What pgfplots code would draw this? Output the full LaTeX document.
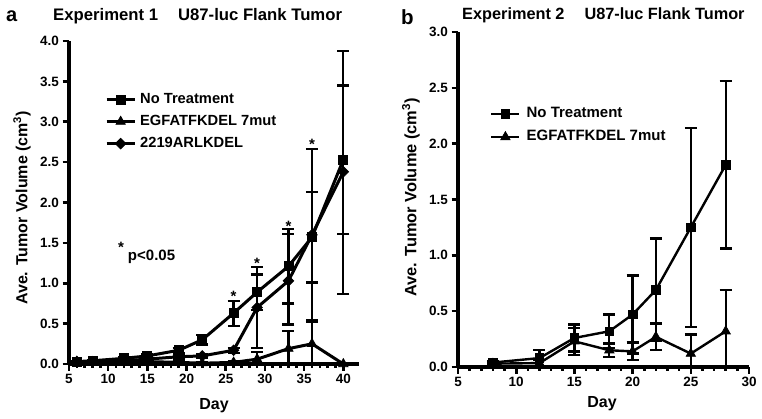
\documentclass[border=0pt]{standalone}
\usepackage{fontspec}
\setmainfont{Liberation Sans}
\usepackage{pgfplots}
\usepackage{pgfplotstable}
\pgfplotsset{compat=1.18}

% Experiment 1: day, mean, err+, err-
\pgfplotstableread{
x y ep em
6 0.03 0.01 0.01
8 0.04 0.01 0.01
12 0.07 0.01 0.01
15 0.10 0.02 0.02
19 0.17 0.03 0.03
22 0.30 0.06 0.06
26 0.63 0.15 0.16
29 0.89 0.22 0.22
33 1.21 0.46 0.46
36 1.57 0.56 0.56
40 2.53 0.92 0.92
}\anone
\pgfplotstableread{
x y ep em
6 0.03 0.01 0.01
8 0.02 0.01 0.01
12 0.02 0.01 0.01
15 0.03 0.01 0.01
19 0.02 0.01 0.01
22 0.01 0.01 0.01
26 0.02 0.01 0.01
29 0.06 0.09 0.06
33 0.19 0.22 0.19
36 0.25 0.27 0.25
40 0.00 0.00 0.00
}\atwo
\pgfplotstableread{
x y ep em
6 0.03 0.01 0.01
8 0.03 0.01 0.01
12 0.04 0.01 0.01
15 0.06 0.01 0.01
19 0.09 0.02 0.02
22 0.10 0.02 0.02
26 0.17 0.03 0.03
29 0.70 0.50 0.50
33 1.03 0.58 0.54
36 1.60 1.06 1.06
40 2.38 1.50 1.51
}\athree
% Experiment 2
\pgfplotstableread{
x y ep em
8 0.04 0.01 0.01
12 0.08 0.07 0.07
15 0.26 0.12 0.12
18 0.32 0.15 0.15
20 0.47 0.35 0.35
22 0.69 0.46 0.46
25 1.25 0.89 0.89
28 1.81 0.75 0.75
}\bone
\pgfplotstableread{
x y ep em
8 0.03 0.01 0.01
12 0.035 0.03 0.03
15 0.23 0.12 0.12
18 0.15 0.06 0.06
20 0.14 0.08 0.08
22 0.27 0.12 0.12
25 0.12 0.17 0.12
28 0.32 0.37 0.32
}\btwo

\newcommand{\tickfont}{\bfseries\fontsize{13.5}{14}\selectfont}
\pgfplotsset{
  panel/.style={
    scale only axis, anchor=south west,
    axis lines=left,
    axis line style={line width=3.6pt, -, black},
    every outer x axis line/.append style={line width=3.6pt, -, black},
    every outer y axis line/.append style={line width=3.6pt, -, black},
    every inner x axis line/.append style={line width=3.6pt, -, black},
    every inner y axis line/.append style={line width=3.6pt, -, black},
    tick align=outside,
    every tick/.append style={line width=2.6pt, black},
    major tick length=6.5pt, minor tick length=3.5pt,
    minor x tick num=4,
    xticklabel={\tickfont\pgfmathprintnumber[assume math mode=true]{\tick}},
    yticklabel={\tickfont\pgfmathprintnumber[assume math mode=true,fixed,fixed zerofill,precision=1]{\tick}},
    label style={font=\bfseries\fontsize{16}{17}\selectfont},
    legend cell align=left,
    legend image code/.code={\draw[mark repeat=2,mark phase=2,##1] plot coordinates {(0pt,0pt) (14pt,0pt) (28pt,0pt)};},
  },
  ebars/.style={error bars/.cd, y dir=both, y explicit,
    error bar style={line width=2.3pt, black, solid},
    error mark options={rotate=90, mark size=6pt, line width=2.3pt, black}},
}

\begin{document}
\begin{tikzpicture}[x=1pt,y=1pt]
\path[use as bounding box] (0,0) rectangle (762,418);

% titles
\node[anchor=base west, inner sep=0pt, font=\bfseries\fontsize{20}{20}\selectfont] at (6,396) {a};
\node[anchor=base west, inner sep=0pt, font=\bfseries\fontsize{16.7}{17}\selectfont] at (53,397) {Experiment 1\hspace{20pt}U87-luc Flank Tumor};
\node[anchor=base west, inner sep=0pt, font=\bfseries\fontsize{20.5}{20}\selectfont] at (401,393) {b};
\node[anchor=base west, inner sep=0pt, font=\bfseries\fontsize{16.3}{17}\selectfont] at (462,398) {Experiment 2\hspace{20pt}U87-luc Flank Tumor};

\begin{axis}[panel, at={(69pt,54pt)}, width=290pt, height=323pt,
  xmin=5, xmax=42, ymin=0, ymax=4,
  xtick={5,10,15,20,25,30,35,40},
  ytick={0,0.5,1,1.5,2,2.5,3,3.5,4},
  xlabel={Day}, ylabel={Ave. Tumor Volume (cm\textsuperscript{3})},
  xlabel style={at={(rel axis cs:0.5,-0.142)}, anchor=base},
  ylabel style={at={(rel axis cs:-0.162,0.483)}, anchor=center},
  legend style={at={(rel axis cs:0.124,0.84)}, anchor=north west, draw=none, fill=none, inner sep=0pt,
    font=\bfseries\fontsize{14.7}{15}\selectfont, row sep=8.5pt,
    nodes={inner sep=0pt, text height=10.5pt, text depth=3pt},
    /tikz/every odd column/.append style={column sep=4pt}},
]
\addplot[black, line width=3pt, mark=square*, mark size=4.5pt, mark options={line width=0.8pt, fill=black}, ebars]
  table[x=x, y=y, y error plus=ep, y error minus=em] {\anone};
\addlegendentry{No Treatment}
\addplot[black, line width=3pt, mark=triangle*, mark size=5.3pt, mark options={line width=0.8pt, fill=black}, ebars]
  table[x=x, y=y, y error plus=ep, y error minus=em] {\atwo};
\addlegendentry{EGFATFKDEL 7mut}
\addplot[black, line width=3pt, mark=square*, mark size=3.7pt, mark options={line width=0.8pt, fill=black, rotate=45}, ebars]
  table[x=x, y=y, y error plus=ep, y error minus=em] {\athree};
\addlegendentry{2219ARLKDEL}

\node[anchor=base, inner sep=0pt, font=\bfseries\fontsize{15}{15}\selectfont] at (axis cs:26,0.775) {*};
\node[anchor=base, inner sep=0pt, font=\bfseries\fontsize{15}{15}\selectfont] at (axis cs:29,1.185) {*};
\node[anchor=base, inner sep=0pt, font=\bfseries\fontsize{15}{15}\selectfont] at (axis cs:33,1.645) {*};
\node[anchor=base, inner sep=0pt, font=\bfseries\fontsize{15}{15}\selectfont] at (axis cs:36,2.655) {*};
\node[anchor=base, inner sep=0pt, font=\bfseries\fontsize{15}{15}\selectfont] at (axis cs:11.64,1.385) {*};
\node[anchor=base west, inner sep=0pt, font=\bfseries\fontsize{15}{15}\selectfont] at (axis cs:12.5,1.28) {p<0.05};
\end{axis}

\begin{axis}[panel, at={(458pt,51pt)}, width=291pt, height=335pt,
  xmin=5, xmax=30, ymin=0, ymax=3,
  xtick={5,10,15,20,25,30},
  ytick={0,0.5,1,1.5,2,2.5,3},
  xlabel={Day}, ylabel={Ave. Tumor Volume (cm\textsuperscript{3})},
  xlabel style={at={(rel axis cs:0.495,-0.122)}, anchor=base},
  ylabel style={at={(rel axis cs:-0.1615,0.506)}, anchor=center, font=\bfseries\fontsize{16.4}{17}\selectfont},
  legend style={at={(rel axis cs:0.11,0.776)}, anchor=north west, draw=none, fill=none, inner sep=0pt,
    font=\bfseries\fontsize{15}{15}\selectfont, row sep=9.5pt,
    nodes={inner sep=0pt, text height=10.5pt, text depth=3pt},
    /tikz/every odd column/.append style={column sep=6pt}},
]
\addplot[black, line width=2.4pt, mark=square*, mark size=4.3pt, mark options={line width=0.8pt, fill=black}, ebars]
  table[x=x, y=y, y error plus=ep, y error minus=em] {\bone};
\addlegendentry{No Treatment}
\addplot[black, line width=2.4pt, mark=triangle*, mark size=5.3pt, mark options={line width=0.8pt, fill=black}, ebars]
  table[x=x, y=y, y error plus=ep, y error minus=em] {\btwo};
\addlegendentry{EGFATFKDEL 7mut}
\end{axis}
\end{tikzpicture}
\end{document}
